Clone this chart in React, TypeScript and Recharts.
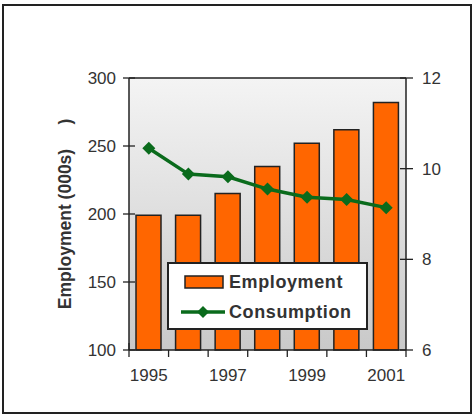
import { Bar, CartesianGrid, ComposedChart, Legend, Line, ReferenceLine, XAxis, YAxis } from "recharts";

const YEARS = ["1995", "1996", "1997", "1998", "1999", "2000", "2001"];
const EMPLOYMENT = [199, 199, 215, 235, 252, 262, 282];
const CONSUMPTION = [10.45, 9.88, 9.82, 9.55, 9.37, 9.32, 9.14];
const LEFT_TICKS = [100, 150, 200, 250, 300];
const RIGHT_TICKS = [6, 8, 10, 12];

const data = YEARS.map((year, i) => ({ year, Employment: EMPLOYMENT[i], Consumption: CONSUMPTION[i] }));

const W = 474;
const H = 415;
const TOP = 78;
const LEFT_W = 129;
const RIGHT_W = 68;
const BAND = (W - LEFT_W - RIGHT_W) / YEARS.length;

const FONT = "'Liberation Sans', Arial, sans-serif";
const INK = "#222";
const ORANGE = "#ff6600";
const GREEN = "#0a6b1c";

function XTick({ x, y, index }: any) {
  const l = x - BAND / 2;
  const r = x + BAND / 2;
  return (
    <g>
      {index === 0 && <line x1={l} x2={l} y1={y - 7} y2={y + 7} stroke={INK} strokeWidth={1.3} />}
      <line x1={r} x2={r} y1={y} y2={y + 7} stroke={INK} strokeWidth={1.3} />
      {index % 2 === 0 && (
        <text x={x} y={y + 31} textAnchor="middle" fontSize={17} fill="#333" fontFamily={FONT}>
          {YEARS[index]}
        </text>
      )}
    </g>
  );
}

function LeftTick({ x, y, payload }: any) {
  return (
    <g>
      <line x1={x - 6} x2={x + 6} y1={y} y2={y} stroke={INK} strokeWidth={1.3} />
      <text x={x - 13} y={y} dy="0.36em" textAnchor="end" fontSize={17} fill="#333" fontFamily={FONT}>
        {payload.value}
      </text>
    </g>
  );
}

function RightTick({ x, y, payload }: any) {
  return (
    <g>
      <line x1={x - 6} x2={x + 7} y1={y} y2={y} stroke={INK} strokeWidth={1.3} />
      <text x={x + 16} y={y} dy="0.36em" textAnchor="start" fontSize={17} fill="#333" fontFamily={FONT}>
        {payload.value}
      </text>
    </g>
  );
}

function YLabel({ viewBox }: any) {
  const cx = viewBox.x + 71;
  const cy = viewBox.y + viewBox.height / 2;
  return (
    <text
      x={cx}
      y={cy}
      transform={`rotate(-90 ${cx} ${cy})`}
      textAnchor="middle"
      fontSize={17.5}
      fontWeight="bold"
      fill="#333"
      fontFamily={FONT}
      style={{ whiteSpace: "pre" }}
    >
      {"Employment (000s)     )"}
    </text>
  );
}

function Diamond({ cx, cy, index }: any) {
  const s = 6.5;
  return <path key={index} d={`M${cx},${cy - s}L${cx + s},${cy}L${cx},${cy + s}L${cx - s},${cy}Z`} fill={GREEN} />;
}

function LegendBox({ payload }: any) {
  // bars first, then the line, as in the original
  const items = [...(payload || [])].sort((a: any, b: any) => (a.type === "rect" ? -1 : 0) - (b.type === "rect" ? -1 : 0));
  return (
    <div
      style={{
        position: "relative",
        width: 201,
        height: 68,
        boxSizing: "border-box",
        border: `2px solid ${INK}`,
        background: "#fff",
        fontFamily: FONT,
        fontSize: 18,
        fontWeight: "bold",
        letterSpacing: 0.6,
        color: "#333",
      }}
    >
      {items.map((p: any, i: number) => (
        <div
          key={p.value}
          style={{ position: "absolute", left: 12, top: i === 0 ? 7 : 37, height: 22, display: "flex", alignItems: "center" }}
        >
          {p.type === "line" ? (
            <svg width={44} height={14} style={{ marginRight: 4 }}>
              <line x1={0} x2={44} y1={7} y2={7} stroke={GREEN} strokeWidth={3.5} />
              <path d="M22,1L28,7L22,13L16,7Z" fill={GREEN} />
            </svg>
          ) : (
            <svg width={44} height={16} style={{ marginRight: 4 }}>
              <rect x={4} y={2} width={38} height={12} fill={ORANGE} stroke={INK} strokeWidth={1.5} />
            </svg>
          )}
          <span style={{ lineHeight: "22px" }}>{p.value}</span>
        </div>
      ))}
    </div>
  );
}

export default function App() {
  return (
    <div style={{ position: "absolute", left: 0, top: 0, width: W, height: H, background: "#fff" }}>
      <div
        style={{
          position: "absolute",
          left: 2,
          top: 4,
          width: 470,
          height: 410,
          boxSizing: "border-box",
          border: `2px solid ${INK}`,
        }}
      />
      <ComposedChart width={W} height={H} data={data} margin={{ top: TOP, right: 0, bottom: 0, left: 0 }}>
        <defs>
          <linearGradient id="plotBg" x1="0" y1="0" x2="0" y2="1">
            <stop offset="0%" stopColor="#f4f4f4" />
            <stop offset="100%" stopColor="#c9c9c9" />
          </linearGradient>
        </defs>
        <CartesianGrid horizontal={false} vertical={false} fill="url(#plotBg)" />
        <XAxis
          dataKey="year"
          interval={0}
          height={H - TOP - 272}
          tickSize={0}
          tickMargin={0}
          tickLine={false}
          axisLine={{ stroke: INK, strokeWidth: 1.5 }}
          tick={<XTick />}
        />
        <YAxis
          yAxisId="left"
          domain={[100, 300]}
          ticks={LEFT_TICKS}
          width={LEFT_W}
          tickSize={0}
          tickMargin={0}
          tickLine={false}
          axisLine={{ stroke: INK, strokeWidth: 1.5 }}
          tick={<LeftTick />}
          label={<YLabel />}
        />
        <YAxis
          yAxisId="right"
          orientation="right"
          domain={[6, 12]}
          ticks={RIGHT_TICKS}
          width={RIGHT_W}
          tickSize={0}
          tickMargin={0}
          tickLine={false}
          axisLine={{ stroke: INK, strokeWidth: 1.5 }}
          tick={<RightTick />}
        />
        <ReferenceLine yAxisId="left" y={300} stroke={INK} strokeWidth={1.5} />
        <Legend
          layout="horizontal"
          verticalAlign="middle"
          align="center"
          content={<LegendBox />}
          wrapperStyle={{ left: 167, top: 262, width: 201, height: 68 }}
        />
        <Bar
          yAxisId="left"
          dataKey="Employment"
          barSize={25}
          fill={ORANGE}
          stroke={INK}
          strokeWidth={1.5}
          legendType="rect"
          isAnimationActive={false}
        />
        <Line
          yAxisId="right"
          dataKey="Consumption"
          stroke={GREEN}
          strokeWidth={3.5}
          dot={<Diamond />}
          activeDot={false}
          legendType="line"
          isAnimationActive={false}
        />
      </ComposedChart>
    </div>
  );
}
